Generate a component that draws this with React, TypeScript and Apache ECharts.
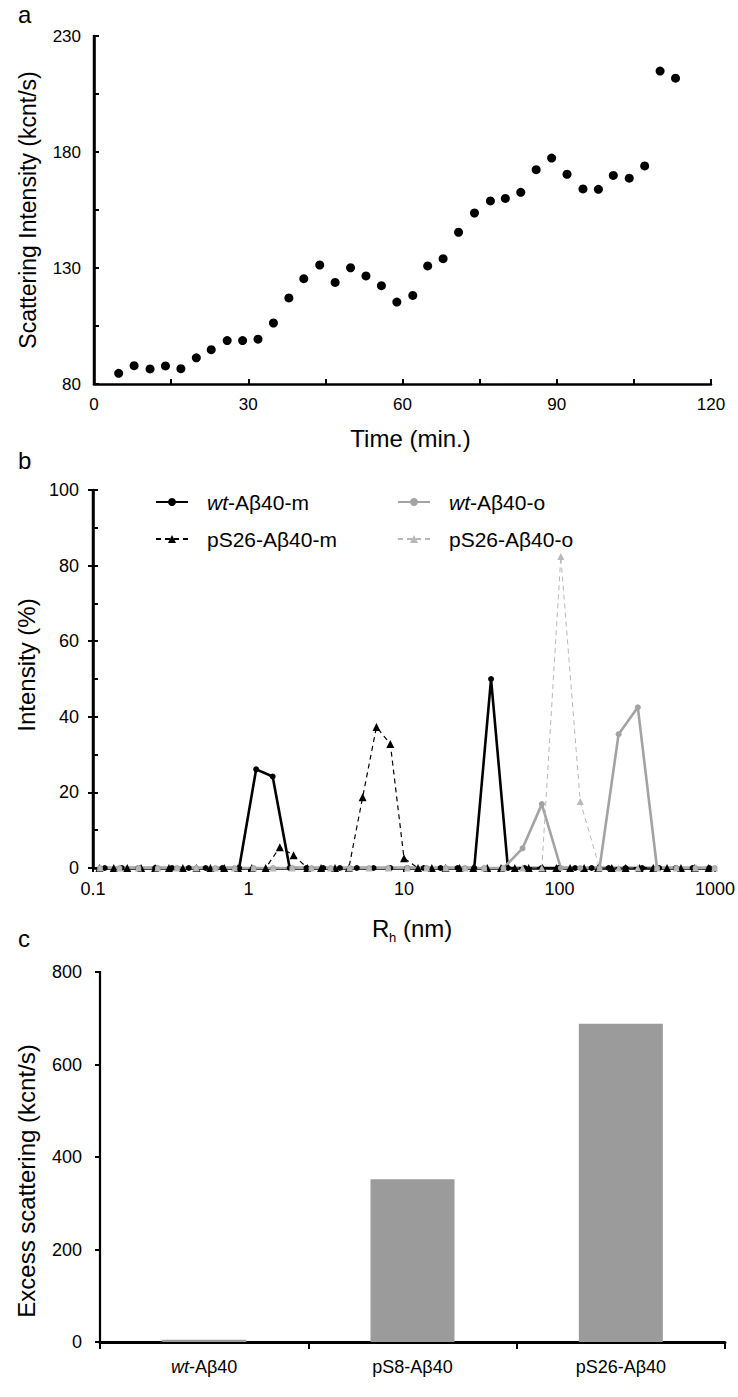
import React, { useEffect, useRef } from "react";
import * as echarts from "echarts";

// ---- Panel a: scattering intensity vs time ----
const timeMin = [4.8, 7.8, 10.9, 13.9, 16.9, 19.9, 22.8, 25.9, 28.9, 31.9, 34.9, 37.9, 40.8, 43.9, 46.9, 49.9, 52.9, 55.9, 58.9, 62.0, 64.9, 67.9, 70.9, 74.0, 77.1, 80.0, 83.0, 86.0, 89.0, 92.0, 95.1, 98.1, 101.0, 104.1, 107.1, 110.1, 113.1];
const scatIntensity = [84.6, 87.9, 86.5, 87.8, 86.6, 91.3, 94.8, 98.7, 98.7, 99.3, 106.3, 117.1, 125.4, 131.3, 123.8, 130.1, 126.6, 122.4, 115.3, 118.2, 130.9, 134.0, 145.4, 153.7, 158.9, 160.0, 162.6, 172.4, 177.4, 170.4, 164.1, 163.9, 169.9, 168.7, 174.0, 214.9, 211.8];

// ---- Panel b: DLS size distributions ----
const wtMRh = [0.119, 0.153, 0.196, 0.251, 0.322, 0.413, 0.530, 0.679, 0.871, 1.12, 1.43, 1.84, 2.36, 3.02, 3.87, 4.97, 6.37, 8.17, 10.5, 13.4, 17.2, 22.1, 28.3, 36.3, 46.6, 59.7, 76.6, 98.2, 126, 161, 207, 266, 340, 437, 560, 718, 920];
const wtMInt = [0, 0, 0, 0, 0, 0, 0, 0, 0, 26.1, 24.2, 0, 0, 0, 0, 0, 0, 0, 0, 0, 0, 0, 0, 50.0, 0, 0, 0, 0, 0, 0, 0, 0, 0, 0, 0, 0, 0];
const pS26MRh = [0.110, 0.136, 0.166, 0.204, 0.251, 0.308, 0.378, 0.463, 0.569, 0.698, 0.857, 1.05, 1.29, 1.59, 1.95, 2.39, 2.93, 3.60, 4.42, 5.42, 6.65, 8.17, 10.0, 12.3, 15.1, 18.5, 22.8, 27.9, 34.3, 42.1, 51.6, 63.4, 77.8, 95.5, 117, 144, 177, 217, 266, 327, 401, 492, 604, 741, 910];
const pS26MInt = [0, 0, 0, 0, 0, 0, 0, 0, 0, 0, 0, 0, 0, 5.5, 3.4, 0, 0, 0, 0, 18.7, 37.3, 32.8, 2.6, 0, 0, 0, 0, 0, 0, 0, 0, 0, 0, 0, 0, 0, 0, 0, 0, 0, 0, 0, 0, 0, 0];
const oligoRh = [0.111, 0.148, 0.196, 0.261, 0.347, 0.461, 0.612, 0.814, 1.08, 1.44, 1.91, 2.54, 3.37, 4.48, 5.96, 7.92, 10.5, 14.0, 18.6, 24.7, 32.8, 43.6, 57.9, 77.0, 102, 136, 181, 240, 319, 424, 564, 749, 995];
const wtOInt = [0, 0, 0, 0, 0, 0, 0, 0, 0, 0, 0, 0, 0, 0, 0, 0, 0, 0, 0, 0, 0, 0, 5.2, 16.9, 0, 0, 0, 35.4, 42.5, 0, 0, 0, 0];
const pS26OInt = [0, 0, 0, 0, 0, 0, 0, 0, 0, 0, 0, 0, 0, 0, 0, 0, 0, 0, 0, 0, 0, 0, 0, 0, 82.4, 17.6, 0, 0, 0, 0, 0, 0, 0];
const seriesNames = ["wt-Aβ40-m", "pS26-Aβ40-m", "wt-Aβ40-o", "pS26-Aβ40-o"];

// ---- Panel c: excess scattering ----
const peptides = ["wt-Aβ40", "pS8-Aβ40", "pS26-Aβ40"];
const excessScattering = [5, 352, 688];

const FONT = "Liberation Sans, Arial, sans-serif";

const zip = (xs: number[], ys: number[]) => xs.map((x, i) => [x, ys[i]]);
const italicWt = (s: string) => (s.startsWith("wt") ? "{i|wt}" + s.slice(2) : s);
const axisLine = (w: number) => ({ show: true, onZero: false, lineStyle: { color: "#000", width: w } });
const tickLabel = (size: number, margin: number) => ({ color: "#000", fontSize: size, fontFamily: FONT, margin });
const nameStyle = (size: number, padding: number[] = [0, 0, 0, 0]) => ({ color: "#000", fontSize: size, fontFamily: FONT, padding });
const letter = (text: string, top: number) => ({
  text, left: 18, top, padding: 0,
  textStyle: { fontSize: 24, fontWeight: "normal", fontFamily: FONT, color: "#000" },
});
const txt = (text: string, x: number, y: number, size: number) => ({
  type: "text", x, y,
  style: { text, fontSize: size, fontFamily: FONT, fill: "#000", align: "left", verticalAlign: "middle" },
});

function optionA(): any {
  return {
    animation: false,
    title: letter("a", 2),
    grid: { left: 94, right: 27, top: 36, height: 348 },
    xAxis: {
      type: "value", min: 0, max: 120, interval: 15,
      name: "Time (min.)", nameLocation: "middle", nameGap: 42, nameTextStyle: nameStyle(24, [0, 0, 0, 16]),
      axisLine: axisLine(2.5),
      axisTick: { inside: true, length: 5, lineStyle: { color: "#000", width: 2 } },
      axisLabel: { ...tickLabel(17, 12), formatter: (v: number) => (v % 30 === 0 ? String(v) : "") },
      splitLine: { show: false },
    },
    yAxis: {
      type: "value", min: 80, max: 230, interval: 25,
      name: "Scattering Intensity (kcnt/s)", nameLocation: "middle", nameRotate: 90, nameGap: 55,
      nameTextStyle: nameStyle(23),
      axisLine: axisLine(2.5),
      axisTick: { show: true, inside: true, length: 5, lineStyle: { color: "#000", width: 2 } },
      axisLabel: { ...tickLabel(17, 13), formatter: (v: number) => ((v - 80) % 50 === 0 ? String(v) : "") },
      splitLine: { show: false },
    },
    series: [{
      type: "scatter", data: zip(timeMin, scatIntensity),
      symbol: "circle", symbolSize: 9, itemStyle: { color: "#000", opacity: 1 },
    }],
  };
}

function optionB(): any {
  const legendCommon = {
    orient: "vertical", top: 46, itemWidth: 32, itemHeight: 10, itemGap: 15,
    formatter: (n: string) => italicWt(n),
    textStyle: {
      fontSize: 21, lineHeight: 22, fontFamily: FONT, color: "#000", padding: [0, 0, 0, 14],
      rich: { i: { fontStyle: "italic", fontSize: 21, fontFamily: FONT, color: "#000" } },
    },
  };
  return {
    animation: false,
    title: letter("b", 8),
    grid: { left: 93, right: 10, top: 50, height: 378 },
    legend: [
      { ...legendCommon, left: 150, data: [seriesNames[0], seriesNames[1]] },
      { ...legendCommon, left: 392, data: [seriesNames[2], seriesNames[3]] },
    ],
    xAxis: {
      type: "log", logBase: 10, min: 0.1, max: 1000,
      axisLine: axisLine(2.5),
      axisTick: { inside: false, length: 4, lineStyle: { color: "#000", width: 2 } },
      axisLabel: { ...tickLabel(18, 12), formatter: (v: number) => String(v) },
      splitLine: { show: false },
      minorTick: { show: false },
    },
    yAxis: [
      {
        type: "value", min: 0, max: 100, interval: 20, position: "left",
        name: "Intensity (%)", nameLocation: "middle", nameRotate: 90, nameGap: 51,
        nameTextStyle: nameStyle(24, [0, 0, 0, 28]),
        axisLine: axisLine(2.5),
        axisTick: { show: true, inside: false, length: 5, lineStyle: { color: "#000", width: 2 } },
        axisLabel: tickLabel(18, 14),
        splitLine: { show: false },
      },
      {
        type: "value", min: 0, max: 100, interval: 10, position: "left", offset: 0,
        axisLine: { show: false },
        axisTick: { show: true, inside: true, length: 5, lineStyle: { color: "#000", width: 2 } },
        axisLabel: { show: false },
        splitLine: { show: false },
      },
    ],
    series: [
      {
        name: seriesNames[0], type: "line", data: zip(wtMRh, wtMInt),
        symbol: "circle", symbolSize: 6, showAllSymbol: true,
        lineStyle: { color: "#000", width: 2.6 }, itemStyle: { color: "#000" },
      },
      {
        name: seriesNames[1], type: "line", data: zip(pS26MRh, pS26MInt),
        symbol: "triangle", symbolSize: 8, showAllSymbol: true,
        lineStyle: { color: "#000", width: 1.2, type: [5, 4] }, itemStyle: { color: "#000" },
      },
      {
        name: seriesNames[2], type: "line", data: zip(oligoRh, wtOInt),
        symbol: "circle", symbolSize: 6, showAllSymbol: true,
        lineStyle: { color: "#a3a3a3", width: 2.6 }, itemStyle: { color: "#a3a3a3" },
      },
      {
        name: seriesNames[3], type: "line", data: zip(oligoRh, pS26OInt),
        symbol: "triangle", symbolSize: 7, showAllSymbol: true,
        lineStyle: { color: "#b8b8b8", width: 1, type: [5, 4] }, itemStyle: { color: "#b8b8b8" },
      },
    ],
    graphic: [
      txt("R", 372, 488, 24),
      txt("h", 389, 497, 13),
      txt("(nm)", 403, 488, 24),
    ],
  };
}

function optionC(): any {
  return {
    animation: false,
    title: letter("c", 26),
    grid: { left: 100, right: 13, top: 72, height: 370 },
    xAxis: {
      type: "category", data: peptides,
      axisLine: axisLine(3),
      axisTick: { show: true, inside: false, length: 7, alignWithLabel: false, lineStyle: { color: "#000", width: 2 } },
      axisLabel: {
        ...tickLabel(18, 16),
        formatter: (v: string) => italicWt(v),
        rich: { i: { fontStyle: "italic", fontSize: 18, fontFamily: FONT, color: "#000" } },
      },
    },
    yAxis: {
      type: "value", min: 0, max: 800, interval: 200,
      name: "Excess scattering (kcnt/s)", nameLocation: "middle", nameRotate: 90, nameGap: 62,
      nameTextStyle: nameStyle(24, [0, 48, 0, 0]),
      axisLine: axisLine(2),
      axisTick: { show: true, inside: false, length: 5, lineStyle: { color: "#000", width: 2 } },
      axisLabel: tickLabel(18, 18),
      splitLine: { show: false },
    },
    series: [{
      type: "bar", data: excessScattering, barWidth: 84, itemStyle: { color: "#9b9b9b" },
    }],
  };
}

// Overlay instance holding only the vertical axis spines (plain shapes, nothing else).
function optionSpines(): any {
  return {
    animation: false,
    graphic: [
      { type: "line", shape: { x1: 94, y1: 35, x2: 94, y2: 385 }, style: { stroke: "#000", lineWidth: 2.5 } },
      { type: "line", shape: { x1: 93, y1: 489, x2: 93, y2: 869 }, style: { stroke: "#000", lineWidth: 2.5 } },
      { type: "line", shape: { x1: 100, y1: 971, x2: 100, y2: 1343 }, style: { stroke: "#000", lineWidth: 2.2 } },
    ],
  };
}

function Panel({ top, height, make }: { top: number; height: number; make: () => any }) {
  const ref = useRef<HTMLDivElement>(null);
  useEffect(() => {
    if (!ref.current) return;
    const chart = echarts.init(ref.current, undefined, { renderer: "svg" });
    chart.setOption(make());
    return () => chart.dispose();
  }, []);
  return <div ref={ref} style={{ position: "absolute", left: 0, top, width: 738, height }} />;
}

export default function App() {
  return (
    <div style={{ position: "fixed", left: 0, top: 0, width: 738, height: 1397, background: "#fff" }}>
      <Panel top={0} height={455} make={optionA} />
      <Panel top={440} height={510} make={optionB} />
      <Panel top={900} height={497} make={optionC} />
      <Panel top={0} height={1397} make={optionSpines} />
    </div>
  );
}
